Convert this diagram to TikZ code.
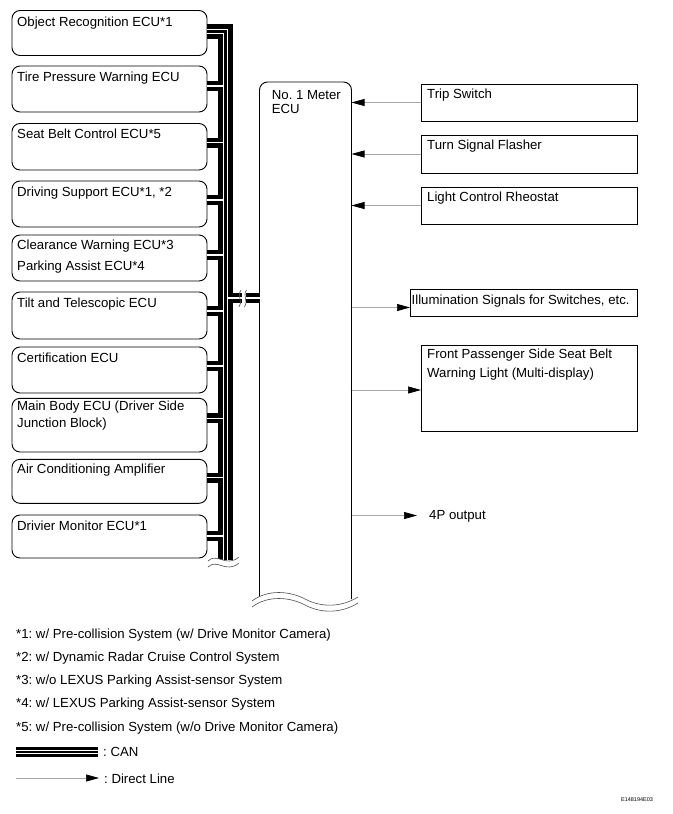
\documentclass[tikz,border=0pt]{standalone}
\usepackage{fontspec}
\setmainfont{Liberation Sans}
\usetikzlibrary{arrows.meta}
\begin{document}
\frenchspacing
\begin{tikzpicture}[x=1bp,y=-1bp,
  every node/.style={font=\fontsize{13.2bp}{15bp}\selectfont},
  ecu/.style={draw, rounded corners=8bp, line width=0.9bp, minimum width=195bp, anchor=north west, inner sep=0, outer sep=0},
  rbox/.style={draw, line width=0.9bp, minimum width=216bp, anchor=north west, inner sep=0, outer sep=0},
  txt/.style={anchor=north west, inner sep=0, align=left},
  canblack/.style={line width=10bp, black, line join=miter},
  canwhite/.style={line width=1.3bp, white, line join=miter},
  legblack/.style={line width=7.5bp, black},
  legwhite/.style={line width=1.3bp, white},
  direct/.style={gray!70, line width=0.7bp, -{Triangle[length=13bp,width=7bp,color=black]}},
  brk/.style={line width=0.6bp, black!70},
]
\useasboundingbox (0,0) rectangle (673,814);

% ---------- left ECU boxes ----------
\node[ecu, minimum height=45bp] (b1) at (12,10.5) {};
\node[ecu, minimum height=46bp] (b2) at (12,66) {};
\node[ecu, minimum height=46.5bp] (b3) at (12,123.5) {};
\node[ecu, minimum height=46bp] (b4) at (12,181) {};
\node[ecu, minimum height=46bp] (b5) at (12,235) {};
\node[ecu, minimum height=47bp] (b6) at (12,292) {};
\node[ecu, minimum height=46bp] (b7) at (12,347) {};
\node[ecu, minimum height=53.7bp] (b8) at (12,398.3) {};
\node[ecu, minimum height=44bp] (b9) at (12,459.3) {};
\node[ecu, minimum height=43bp] (b10) at (12,515) {};

\node[txt] (t1) at (17,17.2) {Object Recognition ECU*1};
\node[txt] (t2) at (17,71.5) {Tire Pressure Warning ECU};
\node[txt] (t3) at (17,129) {Seat Belt Control ECU*5};
\node[txt] (t4) at (17,186.5) {Driving Support ECU*1, *2};
\node[txt] (t5a) at (17,239.5) {Clearance Warning ECU*3};
\node[txt] (t5b) at (17,260.5) {Parking Assist ECU*4};
\node[txt] (t6) at (17,297.5) {Tilt and Telescopic ECU};
\node[txt] (t7) at (17,352.5) {Certification ECU};
\node[txt, font=\fontsize{13.2bp}{16.5bp}\selectfont] (t8) at (17,401.2) {Main Body ECU (Driver Side\\Junction Block)};
\node[txt] (t9) at (17,463.8) {Air Conditioning Amplifier};
\node[txt] (t10) at (17,520.5) {Drivier Monitor ECU*1};

% ---------- No. 1 Meter ECU ----------
\node[inner sep=0, outer sep=0, minimum width=92bp, minimum height=518bp, anchor=north west] (meter) at (259.5,82) {};
\draw[line width=0.9bp, rounded corners=8bp] ([yshift=-1bp]meter.south west) -- (meter.north west) -- (meter.north east) -- ([yshift=1bp]meter.south east);
\node[txt, font=\fontsize{13.2bp}{14.7bp}\selectfont] (tm) at (271.7,89.8) {No. 1 Meter\\ECU};
\fill[white] (252,601) .. controls (268,589) and (290,591) .. (305,599) .. controls (322,608) and (342,607) .. (358,597)
  -- (358,603) .. controls (342,613) and (322,614) .. (305,605) .. controls (290,597) and (268,595) .. (252,607) -- cycle;
\draw[brk] (252,601) .. controls (268,589) and (290,591) .. (305,599) .. controls (322,608) and (342,607) .. (358,597);
\draw[brk] (252,607) .. controls (268,595) and (290,597) .. (305,605) .. controls (322,614) and (342,613) .. (358,603);

% ---------- CAN bus ----------
\coordinate (busI) at (223.3,0);
\coordinate (busO) at (227.5,0);
\coordinate (busEnd) at (0,560);
\coordinate (lnk) at (0,298);
\newcommand\canwires[1]{%
  \draw[#1] ([yshift=-19bp]b1.north east) -- ([yshift=-19bp]b1.north east -| busO) -- (busEnd -| busO);
  \draw[#1] ([yshift=-23.2bp]b1.north east) -- ([yshift=-23.2bp]b1.north east -| busI) -- (busEnd -| busI);
  \draw[#1] (lnk -| busO) -- (lnk -| meter.west);
  \foreach \b/\s in {b2/20,b3/19,b4/19,b5/20,b6/19,b7/19,b8/20,b9/18.5,b10/21}{
    \draw[#1] ([yshift=-\s bp]\b.north east) -- ([yshift=-\s bp]\b.north east -| busI);
  }%
}
\canwires{canblack}
\canwires{canwhite}

% break on the link to the meter
\fill[white] (241.5,291) rectangle (245.5,305);
\draw[brk] (239,307) .. controls (243.5,302) and (236.5,296) .. (241,290);
\draw[brk] (244.5,307) .. controls (249,302) and (242,296) .. (246.5,290);

% end of the bus
\fill[white] (208,561) .. controls (217,552) and (226,568) .. (239,557) -- (239,563) .. controls (226,574) and (217,558) .. (208,567) -- cycle;
\draw[brk] (208,561) .. controls (217,552) and (226,568) .. (239,557);
\draw[brk] (208,567) .. controls (217,558) and (226,574) .. (239,563);

% ---------- right side ----------
\node[rbox, minimum height=37bp] (trip) at (421,84) {};
\node[rbox, minimum height=38bp] (turn) at (421,135) {};
\node[rbox, minimum height=37bp] (light) at (421,187) {};
\node[rbox, minimum height=27bp, minimum width=227bp] (illum) at (410,289) {};
\node[rbox, minimum height=86bp] (front) at (421,345) {};

\node[txt] (ttrip) at (427,88.5) {Trip Switch};
\node[txt] (tturn) at (427,139.5) {Turn Signal Flasher};
\node[txt] (tlight) at (427,191.5) {Light Control Rheostat};
\node[txt] (tillum) at (411.5,294.8) {Illumination Signals for Switches, etc.};
\node[txt, font=\fontsize{13.2bp}{18.5bp}\selectfont] (tfront) at (427,349) {Front Passenger Side Seat Belt\\Warning Light (Multi-display)};

\draw[direct] (trip.west) -- (trip.west -| meter.east);
\draw[direct] (turn.west) -- (turn.west -| meter.east);
\draw[direct] (light.west) -- (light.west -| meter.east);
\draw[direct] ([yshift=-5bp]illum.west -| meter.east) -- ([yshift=-5bp]illum.west);
\draw[direct] ([yshift=-2bp]front.west -| meter.east) -- ([yshift=-2bp]front.west);
\coordinate (p4) at (417,515.5);
\draw[direct] (p4 -| meter.east) -- (p4);
\node[txt] (t4p) at (429,510.5) {4P output};

% ---------- notes ----------
\node[txt] (n1) at (16,628.5) {*1: w/ Pre-collision System (w/ Drive Monitor Camera)};
\node[txt] (n2) at (16,651.5) {*2: w/ Dynamic Radar Cruise Control System};
\node[txt] (n3) at (16,674.5) {*3: w/o LEXUS Parking Assist-sensor System};
\node[txt] (n4) at (16,697.5) {*4: w/ LEXUS Parking Assist-sensor System};
\node[txt] (n5) at (16,721.5) {*5: w/ Pre-collision System (w/o Drive Monitor Camera)};

% legend
\coordinate (canA) at (16,752);
\coordinate (canB) at (98,752);
\draw[legblack] ([yshift=1.25bp]canA) -- ([yshift=1.25bp]canB);
\draw[legblack] ([yshift=-1.25bp]canA) -- ([yshift=-1.25bp]canB);
\draw[legwhite] ([yshift=1.25bp]canA) -- ([yshift=1.25bp]canB);
\draw[legwhite] ([yshift=-1.25bp]canA) -- ([yshift=-1.25bp]canB);
\node[txt] (lcan) at (103,747.5) {: CAN};
\coordinate (dlA) at (16,778);
\coordinate (dlB) at (99,778);
\draw[direct] (dlA) -- (dlB);
\node[txt] (ldl) at (104,773.5) {: Direct Line};

\node[font=\fontsize{5.5bp}{6bp}\selectfont, inner sep=0] (code) at (637,800) {E148194E03};
\end{tikzpicture}
\end{document}
